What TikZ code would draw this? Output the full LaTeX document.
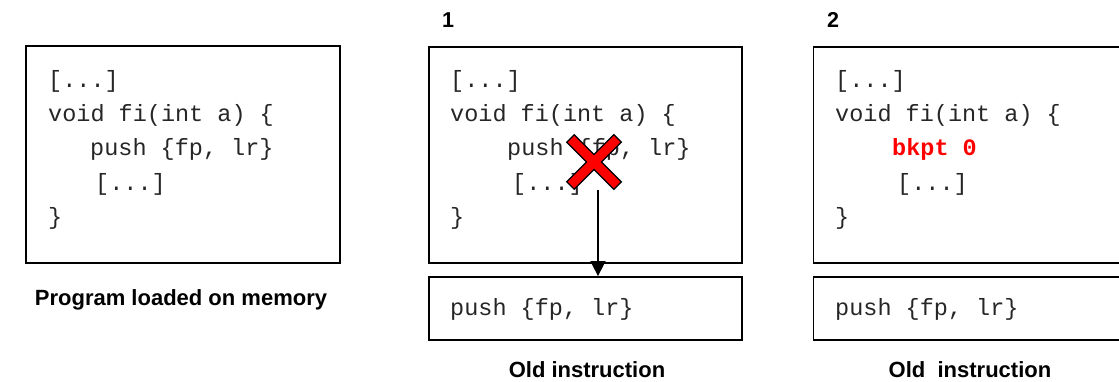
\documentclass[tikz,border=0pt]{standalone}
\usepackage{fontspec}
\setmainfont{Liberation Sans}
\setmonofont{Liberation Mono}
\usetikzlibrary{arrows.meta}
\begin{document}
\begin{tikzpicture}[x=1pt,y=-1pt,
  membox/.style={draw,line width=1.8pt,inner sep=0pt},
  code/.style={anchor=base west,inner sep=0pt,font=\fontsize{23.5}{28}\ttfamily,text=black!85},
  redcode/.style={anchor=base west,inner sep=0pt,font=\fontsize{23.5}{28}\ttfamily\bfseries,text=red},
  caption/.style={anchor=base,inner sep=0pt,font=\fontsize{22}{26}\bfseries},
  stepnum/.style={anchor=base west,inner sep=0pt,font=\fontsize{21.5}{25}\bfseries}]
\useasboundingbox (0,0) rectangle (1119,382);

% ---- panel 0 ----
\node[membox,minimum width=314pt,minimum height=217pt] (mem0) at (183,154.5) {};
\node[code] (a1) at (48,88) {[...]};
\node[code] (a2) at (48,122) {void fi(int a) \{};
\node[code] (a3) at (90,156) {push \{fp, lr\}};
\node[code] (a4) at (95,191) {[...]};
\node[code] (a5) at (48,225) {\}};
\node[caption] (cap0) at (181,305) {Program loaded on memory};

% ---- panel 1 ----
\node[stepnum] (n1) at (442,28) {1};
\node[membox,minimum width=313pt,minimum height=216pt] (mem1) at (585.5,155) {};
\node[membox,minimum width=313pt,minimum height=63pt] (old1) at (585.5,308.5) {};
\node[code] (b1) at (450,88) {[...]};
\node[code] (b2) at (450,122) {void fi(int a) \{};
\node[code] (b3) at (507,156) {push \{fp, lr\}};
\node[code] (b4) at (512,191) {[...]};
\node[code] (b5) at (450,225) {\}};
\node[code] (b6) at (450,315) {push \{fp, lr\}};
\node[caption] (cap1) at (587,377) {Old instruction};

% cross
\coordinate (xc) at (594,162);
\draw[line width=12pt,black] ([shift={(-24,-24)}]xc) -- ([shift={(24,24)}]xc);
\draw[line width=12pt,black] ([shift={(24,-24)}]xc) -- ([shift={(-24,24)}]xc);
\draw[line width=9pt,red] ([shift={(-23,-23)}]xc) -- ([shift={(23,23)}]xc);
\draw[line width=9pt,red] ([shift={(23,-23)}]xc) -- ([shift={(-23,23)}]xc);

\coordinate (arrstart) at (598,190);
\draw[line width=1.8pt,-{Triangle[length=15pt,width=15pt]}] (arrstart) -- (arrstart |- old1.north);

% ---- panel 2 ----
\node[stepnum] (n2) at (827,28) {2};
\node[membox,minimum width=313pt,minimum height=216pt] (mem2) at (970,155) {};
\node[membox,minimum width=313pt,minimum height=63pt] (old2) at (970,308.5) {};
\node[code] (c1) at (835,88) {[...]};
\node[code] (c2) at (835,122) {void fi(int a) \{};
\node[redcode] (c3) at (892,156) {bkpt 0};
\node[code] (c4) at (897,191) {[...]};
\node[code] (c5) at (835,225) {\}};
\node[code] (c6) at (835,315) {push \{fp, lr\}};
\node[caption] (cap2) at (970,377) {Old\ \ instruction};
\end{tikzpicture}
\end{document}
